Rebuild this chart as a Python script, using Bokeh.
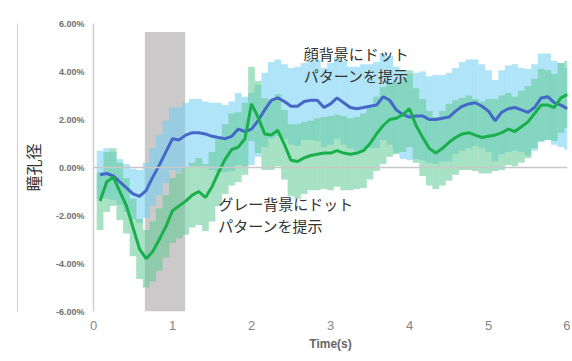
from bokeh.plotting import figure
from bokeh.models import Range1d, FixedTicker, PrintfTickFormatter, Label, Span, LinearAxis
from bokeh.embed import file_html
from bokeh.resources import INLINE

times = [round(k / 12, 3) for k in range(1, 73)]

face_mean = [-0.3, -0.25, -0.35, -0.6, -0.85, -1.1, -1.2, -0.95, -0.4, 0.1, 0.65, 1.2,
             1.15, 1.35, 1.45, 1.45, 1.4, 1.3, 1.25, 1.2, 1.3, 1.6, 1.5, 1.6,
             1.95, 2.4, 2.8, 2.9, 2.75, 2.55, 2.55, 2.75, 2.8, 2.8, 2.5, 2.65,
             2.9, 2.7, 2.5, 2.45, 2.5, 2.55, 2.6, 2.95, 2.8, 2.4, 2.2, 2.1,
             2.15, 2.15, 2.0, 2.0, 2.05, 2.1, 2.35, 2.55, 2.65, 2.7, 2.55, 2.35,
             1.95, 2.3, 2.45, 2.5, 2.4, 2.3, 2.5, 2.9, 2.95, 2.7, 2.6, 2.45]
face_err = [1.0, 1.05, 1.0, 0.95, 1.0, 1.05, 1.1, 1.15, 1.2, 1.25, 1.3, 1.3,
            1.35, 1.35, 1.4, 1.4, 1.35, 1.4, 1.45, 1.4, 1.45, 1.5, 1.45, 1.5,
            1.5, 1.55, 1.6, 1.6, 1.55, 1.6, 1.65, 1.6, 1.65, 1.7, 1.65, 1.7,
            1.7, 1.75, 1.7, 1.75, 1.8, 1.75, 1.8, 1.8, 1.85, 1.8, 1.85, 1.8,
            1.8, 1.85, 1.8, 1.85, 1.8, 1.85, 1.8, 1.85, 1.85, 1.8, 1.75, 1.7,
            1.7, 1.75, 1.8, 1.8, 1.75, 1.8, 1.8, 1.85, 1.8, 1.75, 1.75, 1.7]

grey_mean = [-1.4, -0.6, -0.4, -1.0, -1.6, -2.5, -3.4, -3.8, -3.5, -3.0, -2.45, -1.8,
             -1.6, -1.4, -1.15, -1.0, -1.25, -0.8, -0.2, 0.35, 0.75, 0.85, 1.2, 2.65,
             2.1, 1.4, 1.35, 1.55, 0.95, 0.3, 0.25, 0.4, 0.5, 0.55, 0.6, 0.6,
             0.7, 0.6, 0.55, 0.6, 0.7, 1.0, 1.4, 1.75, 2.0, 2.05, 2.2, 2.45,
             1.75, 1.25, 0.8, 0.6, 0.8, 1.05, 1.25, 1.4, 1.45, 1.35, 1.25, 1.3,
             1.35, 1.45, 1.6, 1.5, 1.7, 1.9, 2.25, 2.6, 2.6, 2.5, 2.9, 3.05]
grey_err = [1.2, 1.25, 1.2, 1.2, 1.15, 1.2, 1.25, 1.2, 1.25, 1.3, 1.3, 1.35,
            1.35, 1.4, 1.35, 1.4, 1.4, 1.45, 1.4, 1.45, 1.5, 1.45, 1.5, 1.55,
            1.5, 1.5, 1.45, 1.5, 1.45, 1.5, 1.55, 1.5, 1.45, 1.5, 1.5, 1.55,
            1.5, 1.55, 1.5, 1.5, 1.55, 1.5, 1.55, 1.6, 1.55, 1.5, 1.55, 1.6,
            1.55, 1.6, 1.55, 1.5, 1.55, 1.6, 1.55, 1.5, 1.55, 1.5, 1.5, 1.55,
            1.5, 1.55, 1.5, 1.45, 1.5, 1.5, 1.45, 1.5, 1.45, 1.4, 1.45, 1.4]

stim_start, stim_end, stim_top = 0.65, 1.16, 5.65
y_ticks = [-6, -4, -2, 0, 2, 4, 6]
x_ticks = [0, 1, 2, 3, 4, 5, 6]
y_title = "瞳孔径"
face_label = ["顔背景にドット", "パターンを提示"]
grey_label = ["グレー背景にドット", "パターンを提示"]

p = figure(width=570, height=353, output_backend="svg", toolbar_location=None,
           x_range=Range1d(0, 6), y_range=Range1d(-6, 6),
           min_border_left=93, min_border_right=3, min_border_top=23, min_border_bottom=41)
p.outline_line_color = None
p.xgrid.grid_line_color = None
p.ygrid.grid_line_color = None

# stimulus window
p.quad(left=[stim_start], right=[stim_end], bottom=[-6], top=[stim_top],
       fill_color="#cbc9c9", line_color=None)

p.add_layout(Span(location=0, dimension="width", line_color="#c8c8c8", line_width=1.5))

fb = [m - e for m, e in zip(face_mean, face_err)]
ft = [m + e for m, e in zip(face_mean, face_err)]
gb = [m - e for m, e in zip(grey_mean, grey_err)]
gt = [m + e for m, e in zip(grey_mean, grey_err)]

p.vbar(x=times, bottom=fb, top=ft, width=0.085, fill_color="#6fcef2", fill_alpha=0.55, line_color=None)
p.vbar(x=times, bottom=gb, top=gt, width=0.085, fill_color="#61ca94", fill_alpha=0.55, line_color=None)

p.line(times, face_mean, line_color="#4468c8", line_width=3)
p.line(times, grey_mean, line_color="#19b04b", line_width=3)

# axes
p.xaxis.ticker = FixedTicker(ticks=x_ticks)
p.yaxis.ticker = FixedTicker(ticks=y_ticks)
p.yaxis.formatter = PrintfTickFormatter(format="%.2f%%")
for ax in (p.xaxis[0], p.yaxis[0]):
    ax.major_tick_line_color = None
    ax.minor_tick_line_color = None
    ax.major_tick_out = 0
    ax.major_tick_in = 0
p.xaxis.axis_line_color = None
p.yaxis.axis_line_color = "#cfcfcf"
p.yaxis.axis_line_width = 1.5
p.yaxis.major_label_text_font = "Liberation Sans"
p.yaxis.major_label_text_font_style = "bold"
p.yaxis.major_label_text_font_size = "9px"
p.yaxis.major_label_text_color = "#707070"
p.yaxis.major_label_standoff = 9
p.yaxis.axis_label = y_title
p.yaxis.axis_label_text_font = "Noto Sans CJK JP"
p.yaxis.axis_label_text_font_style = "normal"
p.yaxis.axis_label_text_font_size = "16px"
p.yaxis.axis_label_text_color = "#333333"
p.yaxis.axis_label_standoff = 8
p.xaxis.major_label_text_font = "Liberation Sans"
p.xaxis.major_label_text_font_size = "13px"
p.xaxis.major_label_text_color = "#858585"
p.xaxis.major_label_standoff = 9
p.xaxis.axis_label = "Time(s)"
p.xaxis.axis_label_text_font = "Liberation Sans"
p.xaxis.axis_label_text_font_style = "bold"
p.xaxis.axis_label_text_font_size = "12px"
p.xaxis.axis_label_text_color = "#666666"
p.xaxis.axis_label_standoff = 4

# decorative light vertical rule at the far left
deco = LinearAxis(ticker=FixedTicker(ticks=[]), axis_line_color="#d0d0d0", axis_line_width=1,
                  major_tick_line_color=None, minor_tick_line_color=None,
                  major_label_standoff=0, major_tick_out=0, major_tick_in=0)
p.add_layout(deco, "left")

for i, s in enumerate(face_label):
    p.add_layout(Label(x=2.66, y=4.73 - 0.91 * i, text=s, text_baseline="middle",
                       text_font="Noto Sans CJK JP", text_font_size="15px", text_color="#333333"))
for i, s in enumerate(grey_label):
    p.add_layout(Label(x=1.58, y=-1.49 - 0.91 * i, text=s, text_baseline="middle",
                       text_font="Noto Sans CJK JP", text_font_size="15px", text_color="#333333"))

open("out.html", "w").write(file_html(p, INLINE))
